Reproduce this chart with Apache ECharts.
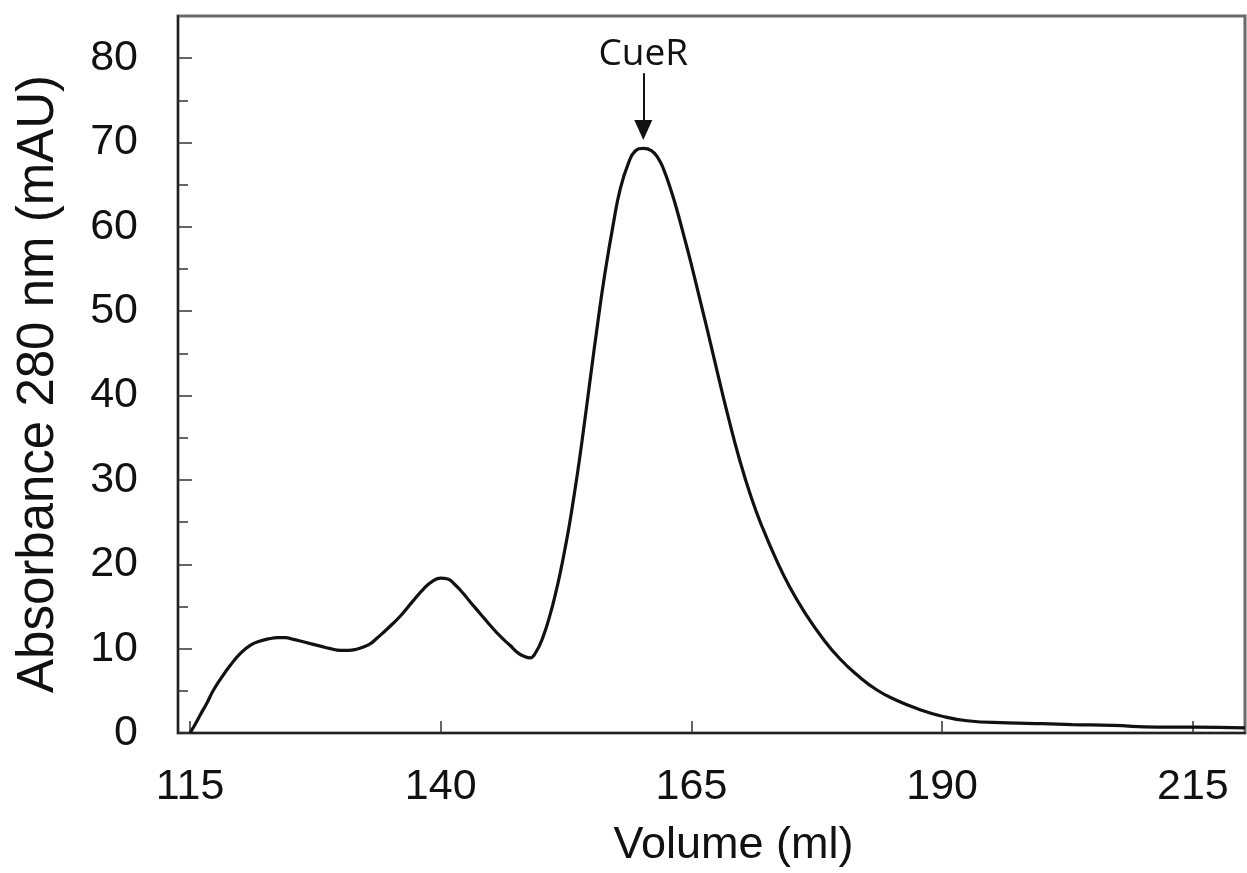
<!DOCTYPE html>
<html>
<head>
<meta charset="utf-8">
<script src="https://cdn.jsdelivr.net/npm/echarts@6/dist/echarts.min.js"></script>
<style>
html,body{margin:0;padding:0;background:#fff;}
#chart{width:1247px;height:873px;}
</style>
</head>
<body>
<div id="chart"></div>
<script>
// Elution volume (ml)
const volume = [115.0,115.5,116.0,116.7,117.3,118.1,119.0,120.0,121.0,122.0,123.0,123.7,124.5,125.3,126.0,127.0,128.0,129.0,130.0,130.8,131.5,132.3,133.0,133.6,134.9,136.0,137.2,138.3,139.2,140.0,140.7,141.4,142.1,142.9,143.9,144.9,145.9,146.9,147.7,148.4,148.9,149.5,150.2,150.9,151.5,151.9,152.4,152.9,153.6,154.2,154.9,155.7,156.4,157.2,157.9,158.7,159.4,160.2,161.0,161.7,162.2,163.0,163.6,164.3,165.0,165.8,166.5,167.6,168.6,169.8,171.0,172.1,173.4,174.8,176.4,178.1,179.8,181.5,183.5,185.5,187.6,189.8,192.5,196.5,200.0,203.0,207.0,211.4,215.0,220.2];
// Absorbance 280 nm (mAU)
const absorbance = [0,1.0,2.1,3.6,5.0,6.5,8.0,9.4,10.4,10.9,11.2,11.3,11.3,11.1,10.9,10.6,10.3,10.0,9.8,9.8,9.9,10.2,10.6,11.2,12.6,13.9,15.6,17.1,18.0,18.35,18.25,17.6,16.75,15.6,14.2,12.8,11.5,10.4,9.5,9.05,8.9,9.6,11.4,14.0,16.8,18.9,21.9,25.2,30.5,35.6,41.9,49.0,54.7,60.3,64.5,67.5,69.0,69.3,69.05,68.1,66.9,64.2,61.8,58.7,55.5,51.6,48.2,42.7,37.8,32.4,27.8,24.3,20.7,17.3,14.1,11.2,8.8,6.9,5.1,3.85,2.85,2.05,1.45,1.2,1.1,1.0,0.9,0.7,0.7,0.6];
const xTicks = [115,140,165,190,215];
const yTicks = [0,10,20,30,40,50,60,70,80];
const yMinorTicks = [5,15,25,35,45,55,65,75];
const peakLabel = 'CueR';
const peakVolume = 160.2;
const arrowFrom = 78.2;
const arrowTo = 71.5;
const labelY = 80.5;

const data = volume.map((v,i)=>[v,absorbance[i]]);
const font = 'Liberation Sans, Arial, sans-serif';

const chart = echarts.init(document.getElementById('chart'), null, {renderer:'canvas'});
chart.setOption({
  animation:false,
  backgroundColor:'#fff',
  grid:{left:178,right:2,top:16,bottom:138,show:true,borderColor:'#6a6a6a',borderWidth:3,backgroundColor:'transparent'},
  xAxis:{
    type:'value',min:113.8,max:220.2,
    name:'Volume (ml)',nameLocation:'middle',nameGap:90,
    nameTextStyle:{fontFamily:font,fontSize:45,color:'#111',padding:[0,0,0,44]},
    axisLine:{show:true,lineStyle:{color:'#222',width:2}},
    axisTick:{show:true,inside:true,length:12,customValues:xTicks,lineStyle:{color:'#333',width:1.5}},
    axisLabel:{customValues:xTicks,fontFamily:font,fontSize:43,color:'#111',margin:33},
    splitLine:{show:false}
  },
  yAxis:[{
    type:'value',min:0,max:85,
    name:'Absorbance 280 nm (mAU)',nameLocation:'middle',nameGap:114,
    nameTextStyle:{fontFamily:font,fontSize:51,color:'#111',padding:[0,19,0,0]},
    axisLine:{show:true,lineStyle:{color:'#222',width:2}},
    axisTick:{show:true,inside:true,length:14,customValues:yTicks,lineStyle:{color:'#333',width:1.5}},
    axisLabel:{customValues:yTicks,fontFamily:font,fontSize:43,color:'#111',margin:40},
    splitLine:{show:false}
  },{
    type:'value',min:0,max:85,position:'left',
    axisLine:{show:false},
    axisTick:{show:true,inside:true,length:10,customValues:yMinorTicks,lineStyle:{color:'#333',width:1.5}},
    axisLabel:{show:false},
    splitLine:{show:false}
  }],
  series:[{
    type:'line',data:data,smooth:0.5,showSymbol:false,symbol:'none',
    lineStyle:{color:'#111',width:3.2},
    markLine:{
      silent:true,symbol:['none','triangle'],symbolSize:[18,20],
      lineStyle:{color:'#111',width:2,type:'solid'},
      label:{show:false},
      data:[[{coord:[peakVolume,arrowFrom]},{coord:[peakVolume,arrowTo]}]]
    },
    markPoint:{
      silent:true,symbol:'circle',symbolSize:1,itemStyle:{color:'transparent'},
      label:{show:true,position:'inside',formatter:peakLabel,fontFamily:'Open Sans, sans-serif',fontSize:37,fontWeight:500,color:'#111'},
      data:[{coord:[peakVolume,labelY]}]
    }
  }]
});
</script>
</body>
</html>
